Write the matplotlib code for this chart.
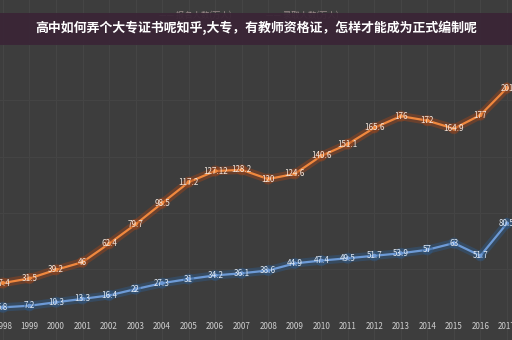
import matplotlib
matplotlib.use("Agg")
import matplotlib.pyplot as plt
import matplotlib.patheffects as pe
from matplotlib.patches import Rectangle

plt.rcParams['font.family'] = ['Noto Sans CJK SC', 'DejaVu Sans']

# data
years = list(range(1998, 2018))
applicants = [27.4, 31.5, 39.2, 46, 62.4, 79.7, 98.5, 117.2, 127.12, 128.2,
              120, 124.6, 140.6, 151.1, 165.6, 176, 172, 164.9, 177, 201]
admitted = [5.8, 7.2, 10.3, 13.3, 16.4, 22, 27.3, 31, 34.2, 36.1,
            38.6, 44.9, 47.4, 49.5, 51.7, 53.9, 57, 63, 51.7, 80.5]
applicant_labels = ["27.4", "31.5", "39.2", "46", "62.4", "79.7", "98.5", "117.2", "127.12", "128.2",
                    "120", "124.6", "140.6", "151.1", "165.6", "176", "172", "164.9", "177", "201"]
admitted_labels = ["5.8", "7.2", "10.3", "13.3", "16.4", "22", "27.3", "31", "34.2", "36.1",
                   "38.6", "44.9", "47.4", "49.5", "51.7", "53.9", "57", "63", "51.7", "80.5"]
legend_names = ["报名人数(万人)", "录取人数(万人)"]
title = "高中如何弄个大专证书呢知乎,大专，有教师资格证，怎样才能成为正式编制呢"

bg = "#3d3d3d"
orange = "#f0883e"
blue = "#6d9ad6"

fig = plt.figure(figsize=(5.12, 3.40), dpi=100, facecolor=bg)
ax = fig.add_axes([0, 0, 1, 1], facecolor=bg)
ax.set_xlim(1997.89, 2017.19)
ax.set_ylim(-23.3, 279.4)
ax.axis("off")

# faint grid
for yr in years:
    ax.axvline(yr, color="#454545", lw=0.8, zorder=0)
for gy in [40, 90, 140, 190, 240]:
    ax.axhline(gy, color="#444444", lw=0.8, zorder=0)

glow_o = [pe.Stroke(linewidth=6, foreground="#a0451a", alpha=0.45), pe.Normal()]
glow_b = [pe.Stroke(linewidth=6, foreground="#2f5a8a", alpha=0.45), pe.Normal()]
ax.plot(years, applicants, color=orange, lw=1.6, marker="o", ms=2, path_effects=glow_o, zorder=3)
ax.plot(years, admitted, color=blue, lw=1.6, marker="o", ms=2, path_effects=glow_b, zorder=3)

for x, v, s in zip(years, applicants, applicant_labels):
    ax.text(x, v, s, color="#f3e6dc", fontsize=5.8, ha="center", va="center", zorder=4)
for x, v, s in zip(years, admitted, admitted_labels):
    ax.text(x, v, s, color="#dfe8f3", fontsize=5.8, ha="center", va="center", zorder=4)

for yr in years:
    ax.text(yr, -11, str(yr), color="#cfcfcf", fontsize=5.8, ha="center", va="center")

# legend partly hidden under the banner
fig.text(0.31, 0.955, "—— " + legend_names[0], color="#9a8a8a", fontsize=6, ha="left", va="center")
fig.text(0.52, 0.955, "—— " + legend_names[1], color="#9a8a8a", fontsize=6, ha="left", va="center")

# title banner
fig.patches.append(Rectangle((0, 0.868), 1, 0.095, transform=fig.transFigure,
                             facecolor="#3a2536", alpha=0.93, zorder=5))
fig.text(0.5, 0.918, title, color="white", fontsize=9.3, fontweight="bold",
         ha="center", va="center", zorder=6)

fig.savefig("out.png", dpi=100, facecolor=bg)
